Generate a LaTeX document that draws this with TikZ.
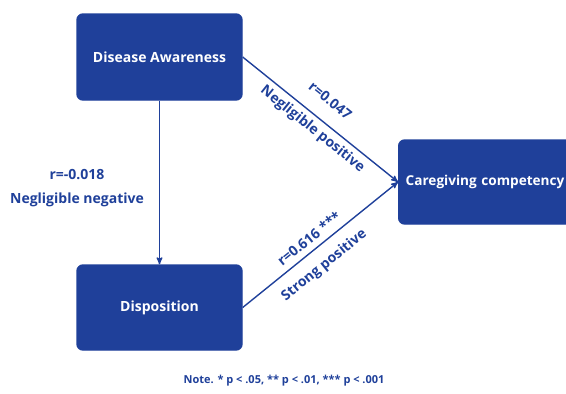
\documentclass[tikz,border=0pt]{standalone}
\usepackage{fontspec}
\setmainfont{Open Sans}
\usetikzlibrary{arrows}
\definecolor{navy}{RGB}{31,64,154}
\tikzset{
  varnode/.style = {rectangle, rounded corners=6pt, fill=navy, draw=navy,
    text=white, inner sep=0pt, font=\bfseries\fontsize{14}{16}\selectfont},% variable
  corr/.style = {text=navy, inner sep=2pt,
    font=\bfseries\fontsize{14}{16}\selectfont}% coefficient r
}
\begin{document}
\begin{tikzpicture}[x=1pt,y=1pt,->,>=stealth',line width=1.4pt,navy]
\clip (0,0) rectangle (566,-394);
\node[varnode, minimum width=165pt, minimum height=86pt] (da) at (159.5,-57) {Disease Awareness};
\node[varnode, minimum width=165pt, minimum height=85pt] (disp) at (159.5,-307.5) {Disposition};
\node[varnode, anchor=west, minimum height=84pt, text width=176pt,
  inner xsep=7pt, align=left, font=\bfseries\fontsize{13.6}{16}\selectfont] (cc) at (398,-182) {Caregiving competency};
\draw (da) -- (disp);
\node[corr] (rdd) at (77,-175) {r=-0.018};
\node[corr] (tdd) at (77,-200) {Negligible negative};
\draw (da.east) -- (cc.west)
  node[corr, pos=0.48, sloped, above=13pt] (rdc) {r=0.047}
  node[corr, pos=0.5, sloped, below=3pt] (tdc) {Negligible positive};
\draw (disp.east) -- (cc.west)
  node[corr, pos=0.475, sloped, above=4pt] (rpc) {r=0.616 ***}
  node[corr, pos=0.45, sloped, below=9pt] (tpc) {Strong positive};
\node[corr, font=\bfseries\fontsize{11}{13}\selectfont] (note) at (284,-381)
  {Note. * p < .05, ** p < .01, *** p < .001};
\end{tikzpicture}
\end{document}
